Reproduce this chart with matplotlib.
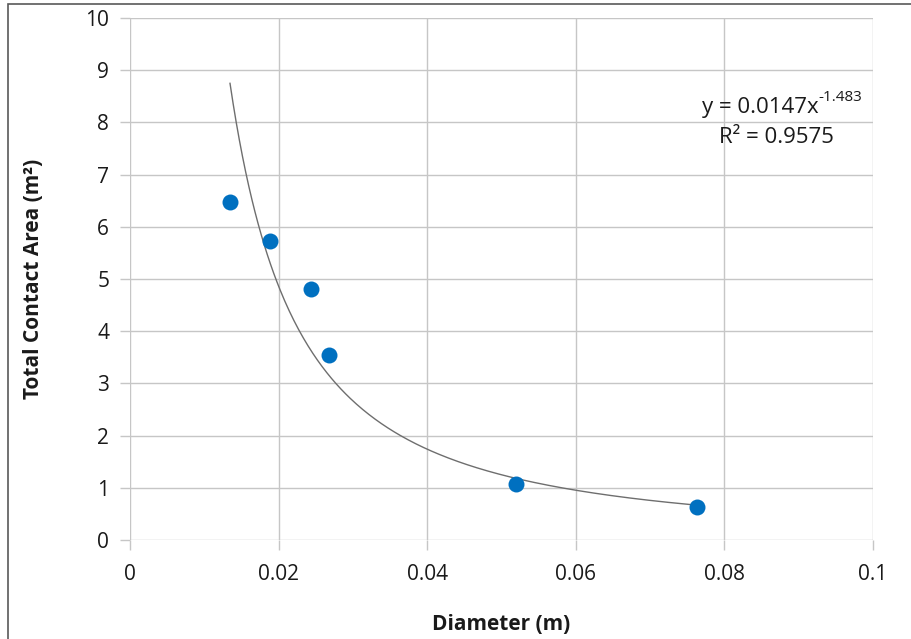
import numpy as np
import matplotlib
matplotlib.use("Agg")
import matplotlib.pyplot as plt
from matplotlib.patches import Rectangle

diameter = [0.01346, 0.01888, 0.02432, 0.02682, 0.05195, 0.07628]
contact_area = [6.48, 5.72, 4.81, 3.54, 1.08, 0.64]
coef_a = 0.0147
coef_b = -1.483
r2 = 0.9575
xticks = [0, 0.02, 0.04, 0.06, 0.08, 0.1]
xticklabels = ["0", "0.02", "0.04", "0.06", "0.08", "0.1"]
yticks = list(range(0, 11))

plt.rcParams['font.family'] = ['Open Sans', 'DejaVu Sans']

fig = plt.figure(figsize=(9.12, 6.39), dpi=100)
ax = fig.add_axes([130/912, 1-540/639, (873-130)/912, (540-18)/639])

gridc = '#c6c6c6'
txtc = '#1a1a1a'
ax.set_xlim(0, 0.1)
ax.set_ylim(0, 10)
ax.set_xticks(xticks)
ax.set_xticklabels(xticklabels)
ax.set_yticks(yticks)
ax.grid(True, color=gridc, linewidth=1.0)
ax.set_axisbelow(True)
for s in ax.spines.values():
    s.set_visible(False)
ax.tick_params(axis='both', direction='out', length=7, width=1.0, color=gridc,
               labelsize=15, labelcolor=txtc)
ax.tick_params(axis='x', pad=10)
ax.tick_params(axis='y', pad=8)

xs = np.linspace(min(diameter), max(diameter), 300)
ax.plot(xs, coef_a * xs ** coef_b, color='#6e6e6e', linewidth=1.0, zorder=2)
ax.plot(diameter, contact_area, 'o', color='#0070c0', markersize=11.5,
        markeredgewidth=0, zorder=3)

ax.set_xlabel('Diameter (m)', fontsize=15, fontweight='bold', labelpad=21, color=txtc)
ax.set_ylabel('Total Contact Area (m²)', fontsize=15, fontweight='bold', labelpad=30, color=txtc)

sup = ax.text(0.0986, 8.41, '%.3f' % coef_b, fontsize=11, ha='right', va='baseline', color=txtc)
ax.annotate('y = %.4fx' % coef_a, xy=(0, 0), xycoords=sup, xytext=(0, -6),
            textcoords='offset points', fontsize=16, ha='right', va='baseline', color=txtc)
ax.text(0.0948, 7.6, 'R² = %.4f' % r2, fontsize=16, ha='right', va='baseline', color=txtc)

fig.patches.append(Rectangle((8/912, -0.1), 1.2, 1.1 - 4/639, transform=fig.transFigure,
                             fill=False, edgecolor='#595959', linewidth=1.2))

fig.savefig('out.png', dpi=100)
